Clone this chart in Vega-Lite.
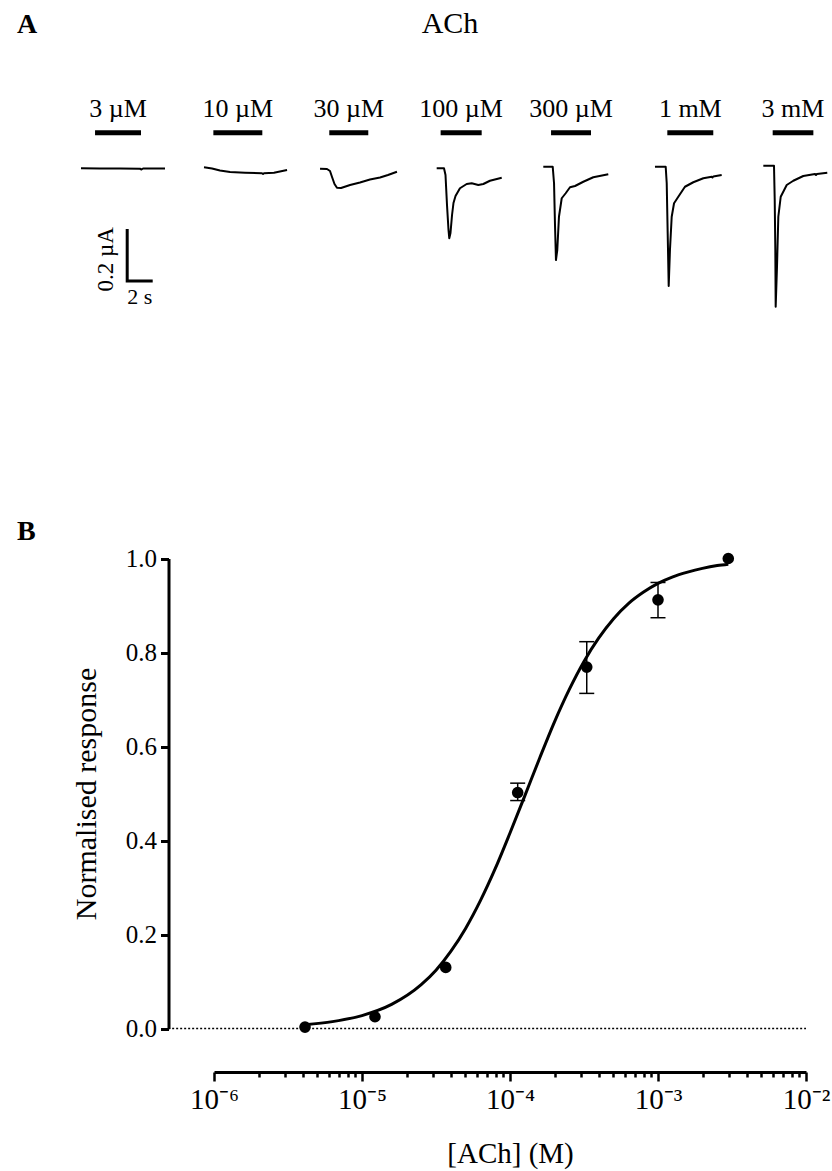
{
  "$schema": "https://vega.github.io/schema/vega-lite/v6.json",
  "width": 832,
  "height": 1171,
  "autosize": {"type": "none"},
  "padding": 0,
  "background": "white",
  "config": {
    "view": {"stroke": null},
    "font": "Liberation Serif",
    "text": {"font": "Liberation Serif", "color": "black"},
    "axis": {"labelFont": "Liberation Serif", "titleFont": "Liberation Serif", "labelColor": "black", "titleColor": "black", "domainColor": "black", "tickColor": "black", "grid": false}
  },
  "datasets": {
    "traces": [
      {"conc": "3 µM", "t": 6.75, "I": -0.001}, {"conc": "3 µM", "t": 8.33, "I": -0.002}, {"conc": "3 µM", "t": 10.0, "I": -0.002}, {"conc": "3 µM", "t": 11.67, "I": -0.003}, {"conc": "3 µM", "t": 11.79, "I": -0.006}, {"conc": "3 µM", "t": 11.92, "I": -0.002}, {"conc": "3 µM", "t": 13.75, "I": -0.002},
      {"conc": "10 µM", "t": 17.0, "I": 0.003}, {"conc": "10 µM", "t": 17.67, "I": -0.002}, {"conc": "10 µM", "t": 18.33, "I": -0.01}, {"conc": "10 µM", "t": 19.17, "I": -0.016}, {"conc": "10 µM", "t": 20.42, "I": -0.019}, {"conc": "10 µM", "t": 21.83, "I": -0.021}, {"conc": "10 µM", "t": 21.92, "I": -0.024}, {"conc": "10 µM", "t": 22.0, "I": -0.021}, {"conc": "10 µM", "t": 22.83, "I": -0.019}, {"conc": "10 µM", "t": 23.92, "I": -0.008},
      {"conc": "30 µM", "t": 26.67, "I": -0.003}, {"conc": "30 µM", "t": 27.25, "I": -0.004}, {"conc": "30 µM", "t": 27.5, "I": -0.012}, {"conc": "30 µM", "t": 27.67, "I": -0.036}, {"conc": "30 µM", "t": 27.875, "I": -0.064}, {"conc": "30 µM", "t": 28.08, "I": -0.079}, {"conc": "30 µM", "t": 28.42, "I": -0.08}, {"conc": "30 µM", "t": 29.17, "I": -0.068}, {"conc": "30 µM", "t": 30.0, "I": -0.058}, {"conc": "30 µM", "t": 30.83, "I": -0.046}, {"conc": "30 µM", "t": 31.67, "I": -0.038}, {"conc": "30 µM", "t": 32.33, "I": -0.028}, {"conc": "30 µM", "t": 33.08, "I": -0.015},
      {"conc": "100 µM", "t": 36.39, "I": -0.001}, {"conc": "100 µM", "t": 37.0, "I": -0.001}, {"conc": "100 µM", "t": 37.125, "I": -0.028}, {"conc": "100 µM", "t": 37.25, "I": -0.148}, {"conc": "100 µM", "t": 37.375, "I": -0.248}, {"conc": "100 µM", "t": 37.44, "I": -0.281}, {"conc": "100 µM", "t": 37.54, "I": -0.26}, {"conc": "100 µM", "t": 37.67, "I": -0.188}, {"conc": "100 µM", "t": 37.79, "I": -0.14}, {"conc": "100 µM", "t": 37.96, "I": -0.112}, {"conc": "100 µM", "t": 38.33, "I": -0.081}, {"conc": "100 µM", "t": 38.89, "I": -0.064}, {"conc": "100 µM", "t": 39.31, "I": -0.061}, {"conc": "100 µM", "t": 39.86, "I": -0.068}, {"conc": "100 µM", "t": 40.28, "I": -0.064}, {"conc": "100 µM", "t": 40.83, "I": -0.051}, {"conc": "100 µM", "t": 41.81, "I": -0.039},
      {"conc": "300 µM", "t": 45.275, "I": 0.005}, {"conc": "300 µM", "t": 46.06, "I": 0.005}, {"conc": "300 µM", "t": 46.17, "I": -0.061}, {"conc": "300 µM", "t": 46.25, "I": -0.228}, {"conc": "300 µM", "t": 46.33, "I": -0.368}, {"conc": "300 µM", "t": 46.44, "I": -0.328}, {"conc": "300 µM", "t": 46.58, "I": -0.195}, {"conc": "300 µM", "t": 46.81, "I": -0.121}, {"conc": "300 µM", "t": 47.14, "I": -0.101}, {"conc": "300 µM", "t": 47.5, "I": -0.077}, {"conc": "300 µM", "t": 47.92, "I": -0.072}, {"conc": "300 µM", "t": 48.61, "I": -0.055}, {"conc": "300 µM", "t": 49.44, "I": -0.037}, {"conc": "300 µM", "t": 50.69, "I": -0.025},
      {"conc": "1 mM", "t": 54.58, "I": 0.005}, {"conc": "1 mM", "t": 55.475, "I": 0.005}, {"conc": "1 mM", "t": 55.56, "I": -0.061}, {"conc": "1 mM", "t": 55.64, "I": -0.261}, {"conc": "1 mM", "t": 55.725, "I": -0.472}, {"conc": "1 mM", "t": 55.83, "I": -0.328}, {"conc": "1 mM", "t": 55.975, "I": -0.195}, {"conc": "1 mM", "t": 56.17, "I": -0.141}, {"conc": "1 mM", "t": 56.525, "I": -0.115}, {"conc": "1 mM", "t": 57.08, "I": -0.075}, {"conc": "1 mM", "t": 57.775, "I": -0.057}, {"conc": "1 mM", "t": 58.61, "I": -0.041}, {"conc": "1 mM", "t": 59.31, "I": -0.035}, {"conc": "1 mM", "t": 59.375, "I": -0.038}, {"conc": "1 mM", "t": 59.44, "I": -0.034}, {"conc": "1 mM", "t": 60.14, "I": -0.028},
      {"conc": "3 mM", "t": 63.61, "I": 0.009}, {"conc": "3 mM", "t": 64.5, "I": 0.009}, {"conc": "3 mM", "t": 64.56, "I": -0.128}, {"conc": "3 mM", "t": 64.61, "I": -0.328}, {"conc": "3 mM", "t": 64.64, "I": -0.555}, {"conc": "3 mM", "t": 64.75, "I": -0.395}, {"conc": "3 mM", "t": 64.86, "I": -0.195}, {"conc": "3 mM", "t": 65.06, "I": -0.115}, {"conc": "3 mM", "t": 65.56, "I": -0.068}, {"conc": "3 mM", "t": 66.11, "I": -0.051}, {"conc": "3 mM", "t": 66.94, "I": -0.032}, {"conc": "3 mM", "t": 67.92, "I": -0.024}, {"conc": "3 mM", "t": 68.0, "I": -0.028}, {"conc": "3 mM", "t": 68.08, "I": -0.024}, {"conc": "3 mM", "t": 68.94, "I": -0.019}
    ],
    "apps": [
      {"conc": "3 µM", "t": 7.92, "I": 0.141}, {"conc": "3 µM", "t": 11.75, "I": 0.141},
      {"conc": "10 µM", "t": 17.78, "I": 0.141}, {"conc": "10 µM", "t": 21.86, "I": 0.141},
      {"conc": "30 µM", "t": 27.44, "I": 0.141}, {"conc": "30 µM", "t": 30.69, "I": 0.141},
      {"conc": "100 µM", "t": 36.72, "I": 0.141}, {"conc": "100 µM", "t": 40.14, "I": 0.141},
      {"conc": "300 µM", "t": 45.92, "I": 0.141}, {"conc": "300 µM", "t": 49.25, "I": 0.141},
      {"conc": "1 mM", "t": 55.61, "I": 0.141}, {"conc": "1 mM", "t": 59.44, "I": 0.141},
      {"conc": "3 mM", "t": 64.39, "I": 0.141}, {"conc": "3 mM", "t": 67.78, "I": 0.141}
    ],
    "curve": [
      {"conc": 4.12e-6, "resp": 0.0081}, {"conc": 6.31e-6, "resp": 0.0146}, {"conc": 1e-5, "resp": 0.0275}, {"conc": 1.585e-5, "resp": 0.0512}, {"conc": 2.512e-5, "resp": 0.0932}, {"conc": 3.162e-5, "resp": 0.124}, {"conc": 3.981e-5, "resp": 0.164}, {"conc": 5.012e-5, "resp": 0.213}, {"conc": 6.31e-5, "resp": 0.272}, {"conc": 7.943e-5, "resp": 0.34}, {"conc": 1e-4, "resp": 0.416}, {"conc": 1.259e-4, "resp": 0.495}, {"conc": 1.585e-4, "resp": 0.575}, {"conc": 1.995e-4, "resp": 0.652}, {"conc": 2.512e-4, "resp": 0.721}, {"conc": 3.162e-4, "resp": 0.781}, {"conc": 3.981e-4, "resp": 0.831}, {"conc": 5.012e-4, "resp": 0.872}, {"conc": 6.31e-4, "resp": 0.904}, {"conc": 7.943e-4, "resp": 0.928}, {"conc": 1e-3, "resp": 0.947}, {"conc": 1.259e-3, "resp": 0.961}, {"conc": 1.585e-3, "resp": 0.971}, {"conc": 1.995e-3, "resp": 0.979}, {"conc": 2.512e-3, "resp": 0.985}, {"conc": 2.985e-3, "resp": 0.988}
    ],
    "points": [
      {"conc": 4.12e-6, "resp": 0.003}, {"conc": 1.224e-5, "resp": 0.025}, {"conc": 3.68e-5, "resp": 0.13}, {"conc": 1.127e-4, "resp": 0.502}, {"conc": 3.3e-4, "resp": 0.769}, {"conc": 1e-3, "resp": 0.912}, {"conc": 2.985e-3, "resp": 1.0}
    ],
    "errs": [
      {"conc": 1.127e-4, "lo": 0.485, "hi": 0.522}, {"conc": 3.3e-4, "lo": 0.713, "hi": 0.823}, {"conc": 1e-3, "lo": 0.874, "hi": 0.949}
    ]
  },
  "layer": [
    {
      "encoding": {
        "x": {"field": "t", "type": "quantitative", "scale": {"domain": [0, 69.3333], "range": [0, 832], "nice": false, "zero": false}, "axis": null},
        "y": {"field": "I", "type": "quantitative", "scale": {"domain": [-0.8, 0.6], "range": [368, 18], "nice": false, "zero": false}, "axis": null}
      },
      "layer": [
        {
          "data": {"name": "traces"},
          "mark": {"type": "line", "color": "black", "strokeWidth": 2, "strokeJoin": "round"},
          "encoding": {"detail": {"field": "conc"}}
        },
        {
          "data": {"name": "apps"},
          "mark": {"type": "line", "color": "black", "strokeWidth": 5, "strokeCap": "butt"},
          "encoding": {"detail": {"field": "conc"}}
        },
        {
          "data": {"name": "apps"},
          "mark": {"type": "text", "fontSize": 26, "align": "center", "baseline": "alphabetic", "dy": -16},
          "encoding": {
            "x": {"aggregate": "mean", "field": "t", "type": "quantitative", "scale": {"domain": [0, 69.3333], "range": [0, 832], "nice": false, "zero": false}, "axis": null},
            "y": {"aggregate": "mean", "field": "I", "type": "quantitative", "scale": {"domain": [-0.8, 0.6], "range": [368, 18], "nice": false, "zero": false}, "axis": null},
            "text": {"field": "conc"}
          }
        },
        {
          "data": {"values": [{"k": 1, "t": 10.6, "I": -0.25}, {"k": 2, "t": 10.6, "I": -0.452}, {"k": 3, "t": 12.6, "I": -0.452}]},
          "mark": {"type": "line", "color": "black", "strokeWidth": 3, "strokeJoin": "miter", "strokeCap": "square"},
          "encoding": {"order": {"field": "k", "type": "quantitative"}}
        },
        {
          "data": {"values": [{"label": "0.2 µA", "t": 8.85, "I": -0.365}]},
          "mark": {"type": "text", "fontSize": 23, "angle": 270, "align": "center", "baseline": "middle"},
          "encoding": {"text": {"field": "label"}}
        },
        {
          "data": {"values": [{"label": "2 s", "t": 11.65, "I": -0.452}]},
          "mark": {"type": "text", "fontSize": 22, "align": "center", "baseline": "top", "dy": 6},
          "encoding": {"text": {"field": "label"}}
        },
        {
          "data": {"values": [{"label": "A", "t": 2.25, "I": 0.54}]},
          "mark": {"type": "text", "fontSize": 28, "fontWeight": "bold", "align": "center", "baseline": "alphabetic"},
          "encoding": {"text": {"field": "label"}}
        },
        {
          "data": {"values": [{"label": "ACh", "t": 37.5, "I": 0.54}]},
          "mark": {"type": "text", "fontSize": 30, "align": "center", "baseline": "alphabetic"},
          "encoding": {"text": {"field": "label"}}
        }
      ]
    },
    {
      "encoding": {
        "x": {
          "field": "conc", "type": "quantitative",
          "scale": {"type": "log", "domain": [1e-6, 1e-2], "range": [214, 806], "nice": false},
          "axis": {
            "orient": "bottom", "offset": -99,
            "values": [1e-6, 2e-6, 3e-6, 4e-6, 5e-6, 6e-6, 7e-6, 8e-6, 9e-6, 1e-5, 2e-5, 3e-5, 4e-5, 5e-5, 6e-5, 7e-5, 8e-5, 9e-5, 1e-4, 2e-4, 3e-4, 4e-4, 5e-4, 6e-4, 7e-4, 8e-4, 9e-4, 1e-3, 2e-3, 3e-3, 4e-3, 5e-3, 6e-3, 7e-3, 8e-3, 9e-3, 1e-2],
            "labelExpr": "datum.value == 1e-6 ? '10⁻⁶' : datum.value == 1e-5 ? '10⁻⁵' : datum.value == 1e-4 ? '10⁻⁴' : datum.value == 1e-3 ? '10⁻³' : datum.value == 1e-2 ? '10⁻²' : ''",
            "tickSize": {"condition": {"test": "datum.value == 1e-6 || datum.value == 1e-5 || datum.value == 1e-4 || datum.value == 1e-3 || datum.value == 1e-2", "value": 9}, "value": 5},
            "tickWidth": 2.5, "domainWidth": 3, "tickCap": "butt",
            "labelFontSize": 29, "labelPadding": 4, "labelFlush": false, "labelOverlap": false, "labelBound": false,
            "title": "[ACh] (M)", "titleFontSize": 29, "titleFontWeight": "normal", "titlePadding": 25
          }
        },
        "y": {
          "field": "resp", "type": "quantitative",
          "scale": {"domain": [0, 1], "range": [1028.5, 558.5], "nice": false, "zero": false},
          "axis": {
            "orient": "left", "offset": -168.5,
            "values": [0, 0.2, 0.4, 0.6, 0.8, 1.0], "format": ".1f",
            "tickSize": 8, "tickWidth": 3, "domainWidth": 3,
            "labelFontSize": 25, "labelPadding": 4, "labelFlush": false, "labelOverlap": false,
            "title": "Normalised response", "titleFontSize": 30, "titleFontWeight": "normal", "titlePadding": 24
          }
        }
      },
      "layer": [
        {
          "data": {"values": [{"conc": 4.9e-7, "resp": 0}, {"conc": 1e-2, "resp": 0}]},
          "mark": {"type": "line", "color": "black", "strokeWidth": 1.5, "strokeDash": [2, 2]}
        },
        {
          "data": {"name": "curve"},
          "mark": {"type": "line", "color": "black", "strokeWidth": 3, "interpolate": "monotone"}
        },
        {
          "data": {"name": "errs"},
          "transform": [{"fold": ["lo", "hi"], "as": ["bound", "resp"]}],
          "mark": {"type": "line", "color": "black", "strokeWidth": 1.5},
          "encoding": {"detail": {"field": "conc"}, "order": {"field": "resp", "type": "quantitative"}}
        },
        {
          "data": {"name": "errs"},
          "transform": [{"fold": ["lo", "hi"], "as": ["bound", "resp"]}],
          "mark": {"type": "tick", "color": "black", "orient": "horizontal", "size": 15, "thickness": 1.5, "opacity": 1}
        },
        {
          "data": {"name": "points"},
          "mark": {"type": "circle", "color": "black", "size": 135, "opacity": 1}
        },
        {
          "data": {"values": [{"label": "B", "conc": 5.4e-8, "resp": 1.039}]},
          "mark": {"type": "text", "fontSize": 28, "fontWeight": "bold", "align": "center", "baseline": "alphabetic"},
          "encoding": {"text": {"field": "label"}}
        }
      ]
    }
  ],
  "resolve": {"scale": {"x": "independent", "y": "independent"}, "axis": {"x": "independent", "y": "independent"}}
}
